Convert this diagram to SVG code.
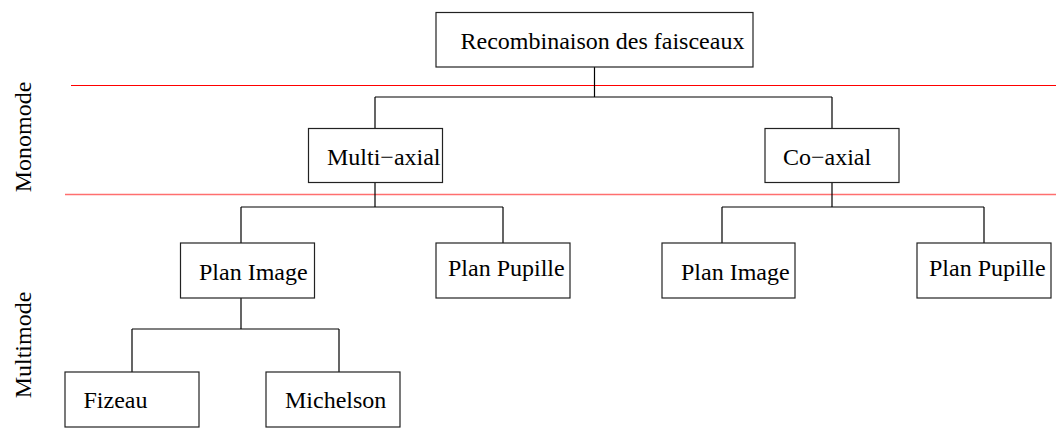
<svg xmlns="http://www.w3.org/2000/svg" width="1056" height="430" viewBox="0 0 1056 430">
<style>
.box{fill:#fff;stroke:#222;stroke-width:1.2}
.lbl{font-family:"Liberation Serif","Times New Roman",serif;font-size:24px;fill:#000}
.con{fill:none;stroke:#000;stroke-width:1.2}
</style>
<rect width="1056" height="430" fill="#fff"/>
<g id="separators">
<line x1="71" y1="85.5" x2="1056" y2="85.5" stroke="#ff0000" stroke-width="1.2"/>
<line x1="65" y1="194.5" x2="1056" y2="194.5" stroke="#ff6f6f" stroke-width="1.6"/>
</g>
<g id="side-labels">
<text class="lbl" text-anchor="middle" transform="translate(31,137) rotate(-90)">Monomode</text>
<text class="lbl" text-anchor="middle" transform="translate(31,345) rotate(-90)">Multimode</text>
</g>
<g id="connectors">
<path class="con" d="M594.5,67V97M375,97H832M375,97V128.5M832,97V128.5"/>
<path class="con" d="M375,182.5V207M241,207H503M241,207V243M503,207V243"/>
<path class="con" d="M832,182.5V207M722,207H984M722,207V243M984,207V243"/>
<path class="con" d="M241,298V329M132,329H339M132,329V372M339,329V372"/>
</g>
<g id="root">
<rect class="box" x="436" y="12.5" width="317" height="54.5"/>
<text class="lbl" x="460.5" y="49">Recombinaison des faisceaux</text>
</g>
<g id="multi-axial">
<rect class="box" x="308.5" y="128.5" width="134" height="54"/>
<text class="lbl" x="327" y="165">Multi−axial</text>
</g>
<g id="co-axial">
<rect class="box" x="765" y="128.5" width="134" height="54"/>
<text class="lbl" x="783" y="165">Co−axial</text>
</g>
<g id="plan-image-left">
<rect class="box" x="180.5" y="243" width="134" height="55"/>
<text class="lbl" x="199" y="280">Plan Image</text>
</g>
<g id="plan-pupille-left">
<rect class="box" x="436" y="243" width="134" height="55"/>
<text class="lbl" x="448" y="276">Plan Pupille</text>
</g>
<g id="plan-image-right">
<rect class="box" x="662" y="243" width="133" height="55"/>
<text class="lbl" x="681" y="280">Plan Image</text>
</g>
<g id="plan-pupille-right">
<rect class="box" x="917" y="243" width="134" height="55"/>
<text class="lbl" x="929" y="276">Plan Pupille</text>
</g>
<g id="fizeau">
<rect class="box" x="65" y="372" width="134" height="55"/>
<text class="lbl" x="83.5" y="408">Fizeau</text>
</g>
<g id="michelson">
<rect class="box" x="266" y="372" width="134" height="55"/>
<text class="lbl" x="285" y="408">Michelson</text>
</g>
</svg>
